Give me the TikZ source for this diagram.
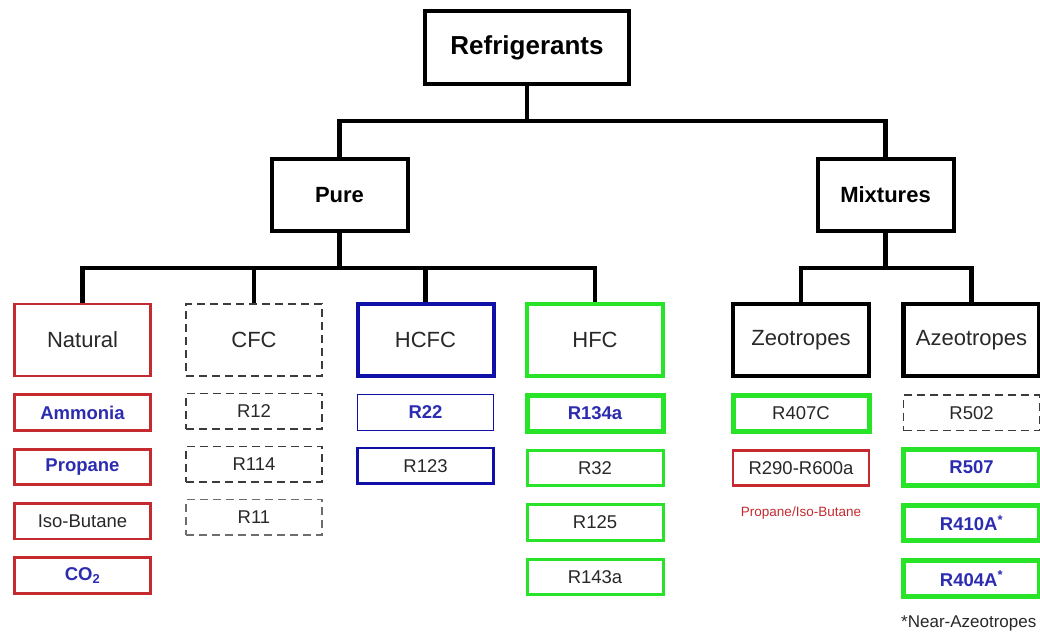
\documentclass[tikz,border=0pt]{standalone}
\usepackage{fontspec}
\setmainfont{Liberation Sans}
\usepackage{tikz}
\usetikzlibrary{positioning}
\definecolor{natred}{RGB}{196,42,48}
\definecolor{itemblue}{RGB}{44,44,176}
\definecolor{hcfcblue}{RGB}{16,16,168}
\definecolor{hfcgreen}{RGB}{40,228,40}
\definecolor{cfcgray}{RGB}{60,60,60}
\definecolor{labelgray}{RGB}{40,40,40}

\begin{document}
\begin{tikzpicture}[x=1pt, y=-1pt, node distance=16pt,
    every node/.style={inner sep=0pt, align=center, text=labelgray},
    conn/.style={line width=4.5pt},
    topbox/.style={draw, line width=4pt, minimum width=204pt, minimum height=73pt,
      text=black, font=\fontsize{26}{29}\selectfont\bfseries},
    midbox/.style={draw, line width=4pt, minimum width=136pt, minimum height=72pt,
      text=black, font=\fontsize{22}{26}\selectfont\bfseries},
    groupbox/.style={draw, minimum width=136pt, minimum height=72pt,
      font=\fontsize{22}{26}\selectfont},
    itembox/.style={draw, minimum width=136pt, minimum height=35.5pt,
      font=\fontsize{18.5}{22}\selectfont},
    hot/.style={text=itemblue, font=\fontsize{18.5}{22}\selectfont\bfseries},
    redline/.style={draw=natred, line width=2.8pt},
    dashline/.style={draw=cfcgray, line width=1.5pt, dash pattern=on 8pt off 5pt},
    blueline/.style={draw=hcfcblue, line width=2.5pt},
    greenline/.style={draw=hfcgreen, line width=3pt},
    greenthick/.style={draw=hfcgreen, line width=5pt}]
  \useasboundingbox (0,0) rectangle (1040,631);

  % top levels
  \node[topbox] (refr) at (527,47.5) {Refrigerants};
  \node[midbox] (pure) at (339.5,195) {Pure};
  \node[midbox] (mix) at (885.5,195) {Mixtures};

  % groups
  \node[groupbox, redline] (nat) at (82.5,340) {Natural};
  \node[groupbox, dashline] (cfc) at (254,340) {CFC};
  \node[groupbox, blueline, line width=4pt] (hcfc) at (425.5,340) {HCFC};
  \node[groupbox, greenline, line width=4.5pt] (hfc) at (595,340) {HFC};
  \node[groupbox, line width=4.5pt] (zeo) at (801,340) {Zeotropes};
  \node[groupbox, line width=4.5pt] (azeo) at (971.5,340) {Azeotropes};

  % connectors
  \coordinate (bus1) at (527,121);
  \coordinate (bus2) at (339.5,268);
  \coordinate (bus3) at (885.5,268);
  \draw[conn] (refr.south) -- (bus1);
  \draw[conn] (pure.north) |- (bus1) -| (mix.north);
  \draw[conn] (pure.south) -- (bus2);
  \draw[conn] (nat.north) |- (bus2) -| (hfc.north);
  \draw[conn] (cfc.north) -- (cfc.north |- bus2);
  \draw[conn] (hcfc.north) -- (hcfc.north |- bus2);
  \draw[conn] (mix.south) -- (bus3);
  \draw[conn] (zeo.north) |- (bus3) -| (azeo.north);

  % natural
  \node[itembox, redline, hot] (ammonia) [below=of nat] {Ammonia};
  \node[itembox, redline, hot] (propane) [below=of ammonia] {Propane};
  \node[itembox, redline] (isobutane) [below=of propane] {Iso-Butane};
  \node[itembox, redline, hot] (co2) [below=of isobutane] {CO\textsubscript{2}};

  % cfc
  \node[itembox, dashline] (r12) [below=of cfc] {R12};
  \node[itembox, dashline] (r114) [below=of r12] {R114};
  \node[itembox, dashline, draw=cfcgray!75] (r11) [below=of r114] {R11};

  % hcfc
  \node[itembox, blueline, line width=1.2pt, hot] (r22) [below=of hcfc] {R22};
  \node[itembox, blueline] (r123) [below=of r22] {R123};

  % hfc
  \node[itembox, greenthick, hot] (r134a) [below=15pt of hfc] {R134a};
  \node[itembox, greenline] (r32) [below=15pt of r134a] {R32};
  \node[itembox, greenline] (r125) [below=of r32] {R125};
  \node[itembox, greenline] (r143a) [below=of r125] {R143a};

  % zeotropes
  \node[itembox, greenthick] (r407c) [below=15pt of zeo] {R407C};
  \node[itembox, redline] (r290) [below=15pt of r407c] {R290-R600a};
  \node[text=natred, font=\fontsize{13.5}{16}\selectfont] (mixnote) [below=19pt of r290] {Propane/Iso-Butane};

  % azeotropes
  \node[itembox, dashline] (r502) [below=of azeo] {R502};
  \node[itembox, greenthick, hot] (r507) [below=of r502] {R507};
  \node[itembox, greenthick, hot] (r410a) [below=15pt of r507] {R410A\textsuperscript{*}};
  \node[itembox, greenthick, hot] (r404a) [below=15pt of r410a] {R404A\textsuperscript{*}};
  \node[font=\fontsize{17}{20}\selectfont] (nearnote) [below=17pt of r404a.south west, anchor=north west] {*Near-Azeotropes};
\end{tikzpicture}
\end{document}
